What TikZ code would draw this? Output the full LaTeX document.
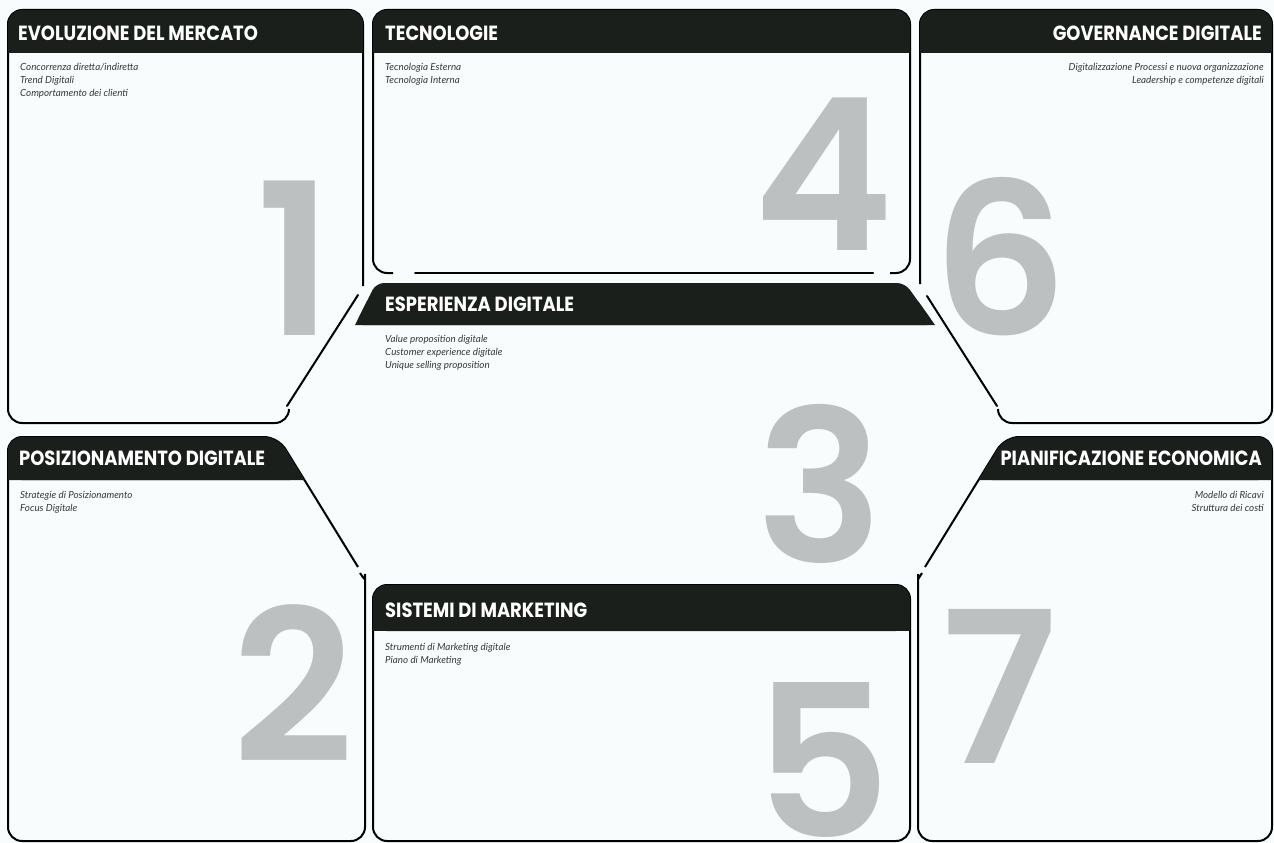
\documentclass[tikz,border=0pt]{standalone}
\usepackage{fontspec}
\usepackage{graphicx}
\newfontfamily\ttlfont{Poppins}
\newfontfamily\numfont{Poppins SemiBold}
\newfontfamily\bodyfont{Lato}
\definecolor{bg}{HTML}{F8FCFC}
\definecolor{hdr}{HTML}{1B1F1C}
\definecolor{numc}{HTML}{BCC0C0}
\definecolor{txtc}{HTML}{383838}
\newcommand\ttltext[1]{\scalebox{0.875}[1]{\ttlfont\bfseries\fontsize{20.5}{21}\selectfont #1}}
\begin{document}
\begin{tikzpicture}[x=1pt,y=-1pt,
  outl/.style={line width=2pt, black, rounded corners=14pt},
  seg/.style={line width=2pt, black, line cap=round},
  ttl/.style={text=white, inner sep=0pt},
  body/.style={text=txtc, inner sep=0pt, font=\bodyfont\itshape\fontsize{9.8}{13}\selectfont},
  num/.style={text=numc, inner sep=0pt, anchor=base, text height=150pt, text depth=0pt, font=\numfont\fontsize{212}{212}\selectfont}]
\fill[bg] (0,0) rectangle (1274,843);
\useasboundingbox (0,0) rectangle (1274,843);

% big numbers
\node[num] (n1) at (295,335) {1};
\node[num] (n4) at (824,250) {4};
\node[num] (n6) at (1000,335) {6};
\node[num] (n3) at (820,562) {3};
\node[num] (n2) at (293,762) {2};
\node[num] (n5) at (823,837) {5};
\node[num] (n7) at (1000,763) {7};

% panel 1
\draw[outl] (363,286) -- (363,10) -- (8,10) -- (8,423) -- (289,423) -- (289,409);
\fill[hdr, rounded corners=14pt] (8,10) rectangle (363,53);
\fill[hdr] (8,30) rectangle (363,53);

% panel 4
\draw[outl] (393,273) -- (373,273) -- (373,10) -- (910,10) -- (910,273) -- (890,273);
\draw[seg] (415,273) -- (873,273);
\fill[hdr, rounded corners=14pt] (373,10) rectangle (910,53);
\fill[hdr] (373,30) rectangle (910,53);

% panel 6
\draw[outl] (920,284) -- (920,10) -- (1272,10) -- (1272,423) -- (998,423) -- (998,409);
\fill[hdr, rounded corners=14pt] (920,10) rectangle (1272,53);
\fill[hdr] (920,30) rectangle (1272,53);

% central diagonals
\draw[seg] (358,295) -- (287,406);
\draw[seg] (927,296) -- (997,406);

% esperienza header
\fill[hdr, rounded corners=8pt] (355,325) -- (376,283) -- (905,283) -- (935,325) -- cycle;
\fill[hdr] (355,325) -- (367,301) -- (918,301) -- (935,325) -- cycle;

% panel 2
\draw[outl] (358,567) -- (278,437) -- (8,437) -- (8,841) -- (365,841) -- (365,588) to[out=90,in=-55] (360,573);
\fill[hdr, rounded corners=14pt] (8,480) -- (8,437) -- (278,437) -- (304.5,480) -- cycle;
\fill[hdr] (8,480) -- (8,458) -- (291,458) -- (304.5,480) -- cycle;

% panel 7
\draw[outl] (925,567) -- (1005,437) -- (1272,437) -- (1272,841) -- (918,841) -- (918,588) to[out=90,in=-125] (922,573);
\fill[hdr, rounded corners=14pt] (1272,480) -- (1272,437) -- (1005,437) -- (978.5,480) -- cycle;
\fill[hdr] (1272,480) -- (1272,458) -- (992,458) -- (978.5,480) -- cycle;

% panel 5
\draw[outl] (373,841) -- (373,585) -- (910,585) -- (910,841) -- cycle;
\fill[hdr, rounded corners=14pt] (373,585) rectangle (910,631);
\fill[hdr] (373,605) rectangle (910,631);

% titles
\node[ttl, anchor=west] (t1) at (18,33.5) {\ttltext{EVOLUZIONE DEL MERCATO}};
\node[ttl, anchor=west] (t4) at (385,33.5) {\ttltext{TECNOLOGIE}};
\node[ttl, anchor=east] (t6) at (1262,33.5) {\ttltext{GOVERNANCE DIGITALE}};
\node[ttl, anchor=west] (t3) at (385,304) {\ttltext{ESPERIENZA DIGITALE}};
\node[ttl, anchor=west] (t2) at (19,458.5) {\ttltext{POSIZIONAMENTO DIGITALE}};
\node[ttl, anchor=east] (t7) at (1262,458.5) {\ttltext{PIANIFICAZIONE ECONOMICA}};
\node[ttl, anchor=west] (t5) at (385,610) {\ttltext{SISTEMI DI MARKETING}};

% body texts
\node[body, anchor=north west, align=left] (b1) at (20,63) {Concorrenza diretta/indiretta\\Trend Digitali\\Comportamento dei clienti};
\node[body, anchor=north west, align=left] (b4) at (385,63) {Tecnologia Esterna\\Tecnologia Interna};
\node[body, anchor=north east, align=right] (b6) at (1264,63) {Digitalizzazione Processi e nuova organizzazione\\Leadership e competenze digitali};
\node[body, anchor=north west, align=left] (b3) at (385,335) {Value proposition digitale\\Customer experience digitale\\Unique selling proposition};
\node[body, anchor=north west, align=left] (b2) at (20,491) {Strategie di Posizionamento\\Focus Digitale};
\node[body, anchor=north east, align=right] (b7) at (1264,491) {Modello di Ricavi\\Struttura dei costi};
\node[body, anchor=north west, align=left] (b5) at (385,643) {Strumenti di Marketing digitale\\Piano di Marketing};
\end{tikzpicture}
\end{document}
